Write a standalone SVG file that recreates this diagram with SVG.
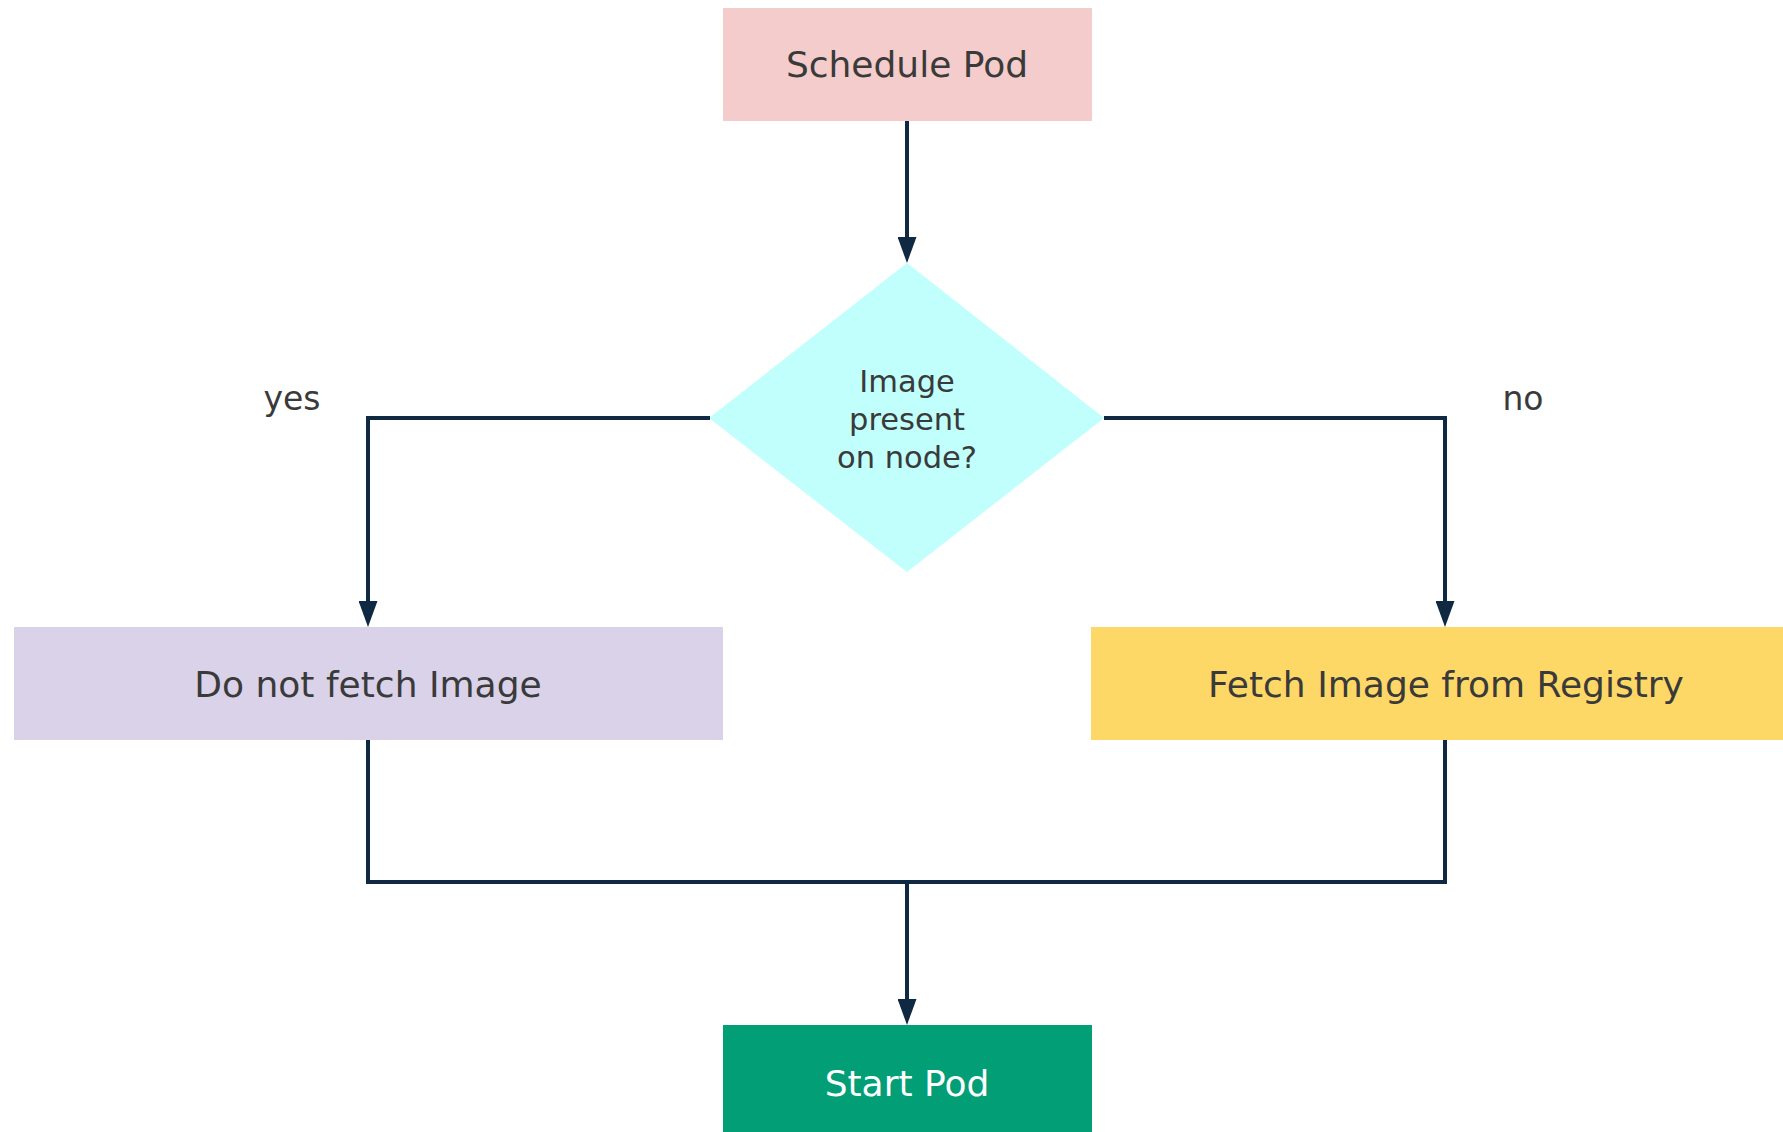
<svg xmlns="http://www.w3.org/2000/svg" width="1783" height="1132" viewBox="0 0 1783 1132">
<style>
  text { font-family: "DejaVu Sans", "Liberation Sans", sans-serif; fill: #3a3a3a; text-anchor: middle; }
  .big { font-size: 36px; }
  .mid { font-size: 30.5px; }
  .lbl { font-size: 33px; }
  .conn { fill: none; stroke: #0f2942; stroke-width: 4; stroke-linejoin: miter; }
</style>
<defs>
  <marker id="arrow" markerUnits="userSpaceOnUse" markerWidth="26" markerHeight="19" refX="6" refY="9.5" orient="auto">
    <path d="M0,0 L26,9.5 L0,19 z" fill="#0f2942"/>
  </marker>
</defs>
<rect width="1783" height="1132" fill="#ffffff"/>
<g id="schedule-pod">
  <rect x="723" y="8" width="369" height="113" fill="#f4cccc"/>
  <text class="big" x="907" y="77">Schedule Pod</text>
</g>
<g id="decision">
  <polygon points="907,263 1104,418 907,572 709,418" fill="#c0fffb"/>
  <text class="mid" x="907" y="392">Image</text>
  <text class="mid" x="907" y="430">present</text>
  <text class="mid" x="907" y="468">on node?</text>
</g>
<g id="do-not-fetch">
  <rect x="14" y="627" width="709" height="113" fill="#d9d2e9"/>
  <text class="big" x="368" y="697">Do not fetch Image</text>
</g>
<g id="fetch-image">
  <rect x="1091" y="627" width="709" height="113" fill="#fed866"/>
  <text class="big" x="1446" y="697">Fetch Image from Registry</text>
</g>
<g id="start-pod">
  <rect x="723" y="1025" width="369" height="120" fill="#029e76"/>
  <text class="big" x="907" y="1096" style="fill:#ffffff">Start Pod</text>
</g>
<g id="connectors">
  <path class="conn" d="M907,121 L907,243" marker-end="url(#arrow)"/>
  <path class="conn" d="M710,418 L368,418 L368,607" marker-end="url(#arrow)"/>
  <path class="conn" d="M1104,418 L1445,418 L1445,607" marker-end="url(#arrow)"/>
  <path class="conn" d="M368,740 L368,882 L1445,882 L1445,740"/>
  <path class="conn" d="M907,882 L907,1005" marker-end="url(#arrow)"/>
  <text class="lbl" x="292" y="410">yes</text>
  <text class="lbl" x="1523" y="410">no</text>
</g>
</svg>
